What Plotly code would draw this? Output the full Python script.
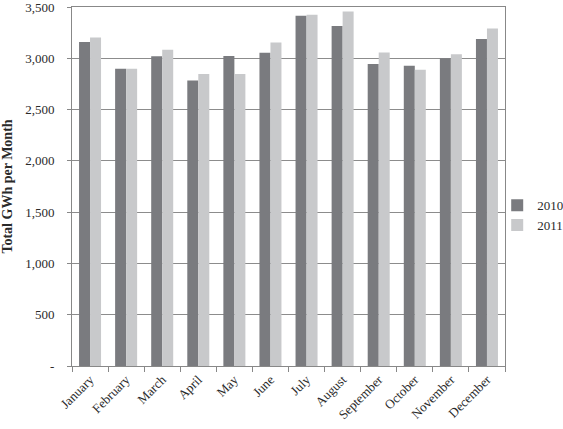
import plotly.graph_objects as go

months = ["January", "February", "March", "April", "May", "June", "July",
          "August", "September", "October", "November", "December"]
values_2010 = [3160, 2900, 3020, 2785, 3022, 3055, 3416, 3315, 2944, 2929, 3000, 3190]
values_2011 = [3203, 2900, 3085, 2847, 2847, 3156, 3425, 3458, 3058, 2890, 3039, 3292]
y_tick_vals = [0, 500, 1000, 1500, 2000, 2500, 3000, 3500]
y_tick_text = ["-", "500", "1,000", "1,500", "2,000", "2,500", "3,000", "3,500"]

font_family = "Liberation Serif, Times New Roman, serif"

fig = go.Figure()
fig.add_trace(go.Bar(x=months, y=values_2010, name="2010", marker_color="#7a7b7f",
                     marker_line_width=0))
fig.add_trace(go.Bar(x=months, y=values_2011, name="2011", marker_color="#c8c9cb",
                     marker_line_width=0))

fig.update_layout(
    width=563, height=429,
    margin=dict(l=72, r=58, t=7, b=63, autoexpand=False),
    paper_bgcolor="white", plot_bgcolor="white",
    barmode="group", bargap=0.39, bargroupgap=0,
    font=dict(family=font_family, size=13, color="#2a2a2a"),
    legend=dict(x=0.982, xanchor="left", y=0.42, yanchor="middle",
                bgcolor="rgba(0,0,0,0)",
                font=dict(size=13), itemwidth=30, tracegroupgap=4),
    showlegend=True,
)
fig.update_xaxes(
    showline=True, linecolor="#888888", linewidth=1, mirror=True,
    ticks="outside", tickson="boundaries", ticklen=5, tickcolor="#888888",
    tickangle=-45, tickfont=dict(size=13), showgrid=False,
)
fig.update_yaxes(
    range=[0, 3501], tickvals=y_tick_vals, ticktext=y_tick_text,
    showline=True, linecolor="#888888", linewidth=1, mirror=True,
    ticks="outside", ticklen=4, tickcolor="#888888", ticklabelstandoff=10,
    ticklabeloverflow="allow",
    showgrid=True, gridcolor="#8c8c8c", gridwidth=1,
    tickfont=dict(size=13), zeroline=False,
    title=dict(text="<b>Total GWh per Month</b>", font=dict(size=14), standoff=13),
)

fig.write_html("out.html", config={"displayModeBar": False},
               post_script="document.body.style.margin='0';")
